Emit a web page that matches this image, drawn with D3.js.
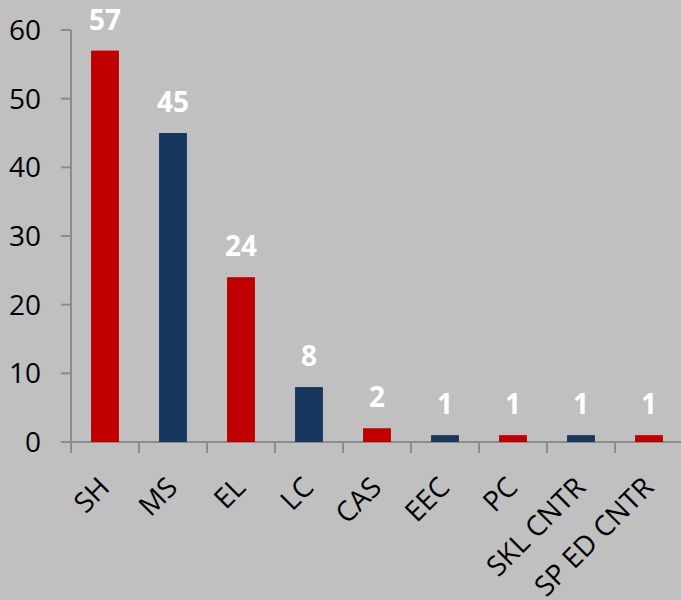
<!DOCTYPE html>
<html><head><meta charset="utf-8">
<script src="https://cdn.jsdelivr.net/npm/d3@7"></script>
<style>body{margin:0;background:#c0c0c0;} svg{display:block;}</style>
</head><body>
<script>
const categories = ["SH","MS","EL","LC","CAS","EEC","PC","SKL CNTR","SP ED CNTR"];
const values = [57,45,24,8,2,1,1,1,1];
const colors = ["#c00000","#17375e","#c00000","#17375e","#c00000","#17375e","#c00000","#17375e","#c00000"];
const yTicks = [0,10,20,30,40,50,60];

const W=681,H=600;
const svg=d3.select("body").append("svg").attr("width",W).attr("height",H).style("background","#c0c0c0");
const x=d3.scaleBand().domain(categories).range([71,683]).paddingInner(0.59).paddingOuter(0.295);
const xb=d3.scaleBand().domain(categories).range([71,683]);
const y=d3.scaleLinear().domain([0,60]).range([442,30]);
const font="'Open Sans', Calibri, sans-serif";

svg.append("line").attr("x1",71).attr("x2",W).attr("y1",y(0)).attr("y2",y(0)).attr("stroke","#8c8c8c").attr("stroke-width",2);
svg.append("line").attr("x1",71).attr("x2",71).attr("y1",y(60)).attr("y2",y(0)+11).attr("stroke","#8c8c8c").attr("stroke-width",2);
svg.selectAll(".yt").data(yTicks).enter().append("line").attr("x1",61).attr("x2",71).attr("y1",d=>y(d)).attr("y2",d=>y(d)).attr("stroke","#8c8c8c").attr("stroke-width",2);
svg.selectAll(".ytl").data(yTicks).enter().append("text").attr("x",41).attr("y",d=>y(d)).attr("dy","0.36em").attr("text-anchor","end").attr("font-family",font).attr("font-size",28).attr("fill","#000").text(d=>d);
svg.selectAll(".xt").data(categories).enter().append("line").attr("x1",d=>xb(d)+xb.bandwidth()).attr("x2",d=>xb(d)+xb.bandwidth()).attr("y1",y(0)).attr("y2",y(0)+11).attr("stroke","#8c8c8c").attr("stroke-width",2);

svg.selectAll(".bar").data(values).enter().append("rect")
 .attr("x",(d,i)=>x(categories[i])).attr("width",x.bandwidth())
 .attr("y",d=>y(d)).attr("height",d=>y(0)-y(d)).attr("fill",(d,i)=>colors[i]);
svg.selectAll(".vl").data(values).enter().append("text")
 .attr("x",(d,i)=>x(categories[i])+x.bandwidth()/2).attr("y",d=>y(d)-21)
 .attr("text-anchor","middle").attr("font-family",font).attr("font-weight","bold").attr("font-size",28).attr("fill","#fff").text(d=>d);
svg.selectAll(".xl").data(categories).enter().append("text")
 .attr("transform",d=>`translate(${xb(d)+xb.bandwidth()/2-1},${y(0)+40}) rotate(-45)`)
 .attr("text-anchor","end").attr("dy","0.36em").attr("font-family",font).attr("font-size",28).attr("fill","#000").text(d=>d);
</script>
</body></html>
